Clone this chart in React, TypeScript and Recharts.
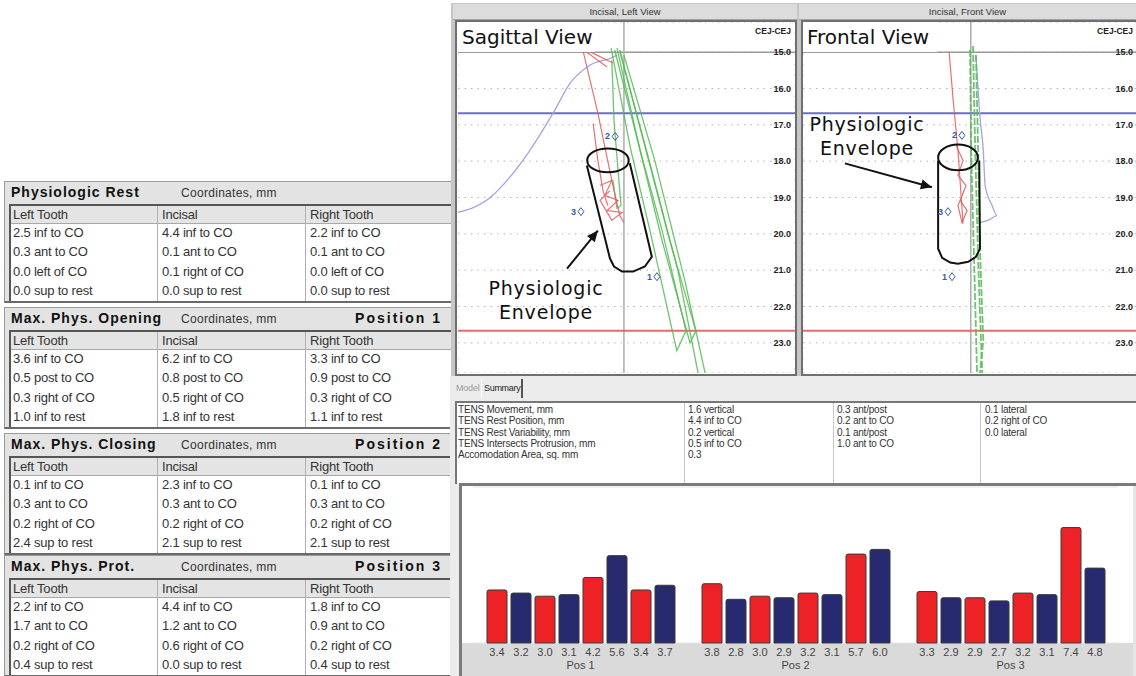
import React from 'react';
import {
  Bar,
  BarChart,
  CartesianGrid,
  LabelList,
  ReferenceLine,
  Scatter,
  ScatterChart,
  XAxis,
  YAxis,
} from 'recharts';

const SANS = '"Liberation Sans", Arial, sans-serif';
const WIDE = '"DejaVu Sans", Verdana, sans-serif';

// ---- coordinate tables (left side) ----
const columnHeads = ['Left Tooth', 'Incisal', 'Right Tooth'];

const restRows = [
  ['2.5 inf to CO', '4.4 inf to CO', '2.2 inf to CO'],
  ['0.3 ant to CO', '0.1 ant to CO', '0.1 ant to CO'],
  ['0.0 left of CO', '0.1 right of CO', '0.0 left of CO'],
  ['0.0 sup to rest', '0.0 sup to rest', '0.0 sup to rest'],
];
const openingRows = [
  ['3.6 inf to CO', '6.2 inf to CO', '3.3 inf to CO'],
  ['0.5 post to CO', '0.8 post to CO', '0.9 post to CO'],
  ['0.3 right of CO', '0.5 right of CO', '0.3 right of CO'],
  ['1.0 inf to rest', '1.8 inf to rest', '1.1 inf to rest'],
];
const closingRows = [
  ['0.1 inf to CO', '2.3 inf to CO', '0.1 inf to CO'],
  ['0.3 ant to CO', '0.3 ant to CO', '0.3 ant to CO'],
  ['0.2 right of CO', '0.2 right of CO', '0.2 right of CO'],
  ['2.4 sup to rest', '2.1 sup to rest', '2.1 sup to rest'],
];
const protrusionRows = [
  ['2.2 inf to CO', '4.4 inf to CO', '1.8 inf to CO'],
  ['1.7 ant to CO', '1.2 ant to CO', '0.9 ant to CO'],
  ['0.2 right of CO', '0.6 right of CO', '0.2 right of CO'],
  ['0.4 sup to rest', '0.0 sup to rest', '0.4 sup to rest'],
];

// ---- summary tab ----
const summaryRows = [
  ['TENS Movement, mm', '1.6 vertical', '0.3 ant/post', '0.1 lateral'],
  ['TENS Rest Position, mm', '4.4 inf to CO', '0.2 ant to CO', '0.2 right of CO'],
  ['TENS Rest Variability, mm', '0.2 vertical', '0.1 ant/post', '0.0 lateral'],
  ['TENS Intersects Protrusion, mm', '0.5 inf to CO', '1.0 ant to CO', ''],
  ['Accomodation Area, sq. mm', '0.3', '', ''],
];

// ---- bar chart ----
const positionNames = ['Pos 1', 'Pos 2', 'Pos 3'];
const pos1Values = [3.4, 3.2, 3.0, 3.1, 4.2, 5.6, 3.4, 3.7];
const pos2Values = [3.8, 2.8, 3.0, 2.9, 3.2, 3.1, 5.7, 6.0];
const pos3Values = [3.3, 2.9, 2.9, 2.7, 3.2, 3.1, 7.4, 4.8];
const barColors = ['#ec2227', '#272a6e'];

// ---- tracings, mm (x: 0 = CO line, y: depth) ----
const depthTicks = [15, 16, 17, 18, 19, 20, 21, 22, 23];
const gridX = [-4, -3, -2, -1, 0, 1, 2, 3, 4];
const depthDomain = [14.17, 23.83];
const topLevel = 15;
const restLevel = 16.68;
const openLevel = 22.67;

const sagBlue = [[-4.7, 19.45], [-3.57, 18.94], [-3.38, 18.75], [-2.56, 17.7], [-1.93, 16.68], [-1.47, 15.86], [-0.93, 15.36], [-0.3, 15.14], [-0.19, 15.08]];
const sagRed = [
  [[-1.12, 14.94], [-0.71, 16.68], [-0.46, 17.9], [-0.27, 18.81], [-0.11, 19.5], [0, 19.69]],
  [[-0.84, 16.96], [-0.71, 17.98], [-0.57, 18.81], [-0.44, 19.22]],
  [[-0.65, 18.67], [-0.33, 18.53], [-0.52, 18.94], [-0.16, 19.08], [-0.46, 19.36], [-0.05, 19.41], [-0.33, 19.63], [-0.65, 19.08], [-0.38, 18.81]],
  [[-1.01, 15.0], [-0.46, 15.41]],
  [[-0.9, 15.0], [-0.3, 15.3]],
];
const sagGreen = [
  [[-0.35, 14.89], [0.19, 17.7], [0.71, 19.91], [1.44, 23.22], [1.69, 22.67], [1.04, 19.91], [0.44, 17.7], [-0.19, 14.89]],
  [[-0.25, 14.94], [0.44, 17.7], [1.04, 20.19], [1.8, 23.0], [1.96, 22.67], [1.25, 20.19], [0.6, 17.7], [-0.11, 14.94]],
  [[-0.11, 15.0], [0.65, 17.84], [1.47, 21.01], [2.02, 23.83]],
  [[0, 15.08], [0.84, 17.98], [1.66, 21.29], [2.21, 23.83]],
  [[-0.33, 15.22], [-0.27, 16.88], [-0.16, 18.26], [-0.08, 19.22], [-0.19, 19.3], [-0.3, 18.53]],
];
const sagEllipse = [[0.19, 17.98], [0.01, 18.24], [-0.44, 18.34], [-0.88, 18.24], [-1.06, 17.98], [-0.88, 17.72], [-0.44, 17.62], [0.01, 17.72]];
const sagBody = [[-1.01, 18.12], [-0.38, 20.68], [-0.27, 20.9], [-0.05, 21.04], [0.25, 21.04], [0.57, 20.9], [0.76, 20.63], [0.16, 18.06]];
const sagArrow = [[-1.55, 20.96], [-0.71, 19.91]];
const sagArrowTip = [{ x: -0.71, y: 19.91, angle: -50.8 }];
const sagMarks = [
  { x: -0.35, y: 17.32, label: '2' },
  { x: -1.28, y: 19.39, label: '3' },
  { x: 0.79, y: 21.18, label: '1' },
];

const frontBlue = [[0.14, 15.08], [0.2, 16.05], [0.25, 16.79], [0.34, 17.7], [0.39, 18.67], [0.58, 19.22], [0.72, 19.5], [0.47, 19.63], [0.25, 19.69]];
const frontRed = [
  [[-0.59, 15.0], [-0.48, 16.32], [-0.35, 17.7], [-0.24, 19.3], [-0.21, 19.72]],
  [[-0.4, 17.57], [-0.21, 17.98], [-0.35, 18.39], [-0.13, 18.67], [-0.29, 19.08], [-0.1, 19.36], [-0.24, 19.69], [-0.35, 19.22], [-0.18, 18.81]],
];
const frontGreen = [
  [[0.06, 14.83], [0.12, 17.7], [0.2, 20.74], [0.31, 23.83]],
  [[-0.02, 14.94], [0.01, 17.7], [0.09, 20.74], [0.17, 23.83]],
  [[0.14, 15.08], [0.2, 17.7], [0.25, 20.46], [0.34, 22.94], [0.25, 23.83]],
];
const frontEllipse = [[0.25, 17.9], [0.08, 18.18], [-0.35, 18.29], [-0.77, 18.18], [-0.95, 17.9], [-0.77, 17.62], [-0.35, 17.5], [0.08, 17.62]];
const frontBody = [[-0.89, 17.98], [-0.89, 20.41], [-0.78, 20.66], [-0.56, 20.79], [-0.35, 20.82], [-0.07, 20.77], [0.14, 20.63], [0.25, 20.41], [0.23, 17.98]];
const frontArrow = [[-3.43, 18.06], [-1.06, 18.72]];
const frontArrowTip = [{ x: -1.06, y: 18.72, angle: 15.4 }];
const frontMarks = [
  { x: -0.35, y: 17.29, label: '2' },
  { x: -0.73, y: 19.39, label: '3' },
  { x: -0.62, y: 21.18, label: '1' },
];

const toPts = (arr: number[][]) => arr.map(([x, y]) => ({ x, y }));
const noDot = () => <g />;

const ArrowHead = (props: any) => {
  const { cx, cy, payload } = props;
  return (
    <polygon
      points='0,0 -11,-5 -11,5'
      fill='#111'
      transform={`translate(${cx},${cy}) rotate(${payload.angle})`}
    />
  );
};

const PosMark = (props: any) => {
  const { cx, cy, payload } = props;
  return (
    <g>
      <text x={cx - 1} y={cy + 3} textAnchor='end' fontSize={9} fontWeight='bold' fill='#3b5aa8' fontFamily={SANS}>
        {payload.label}
      </text>
      <path d={`M${cx + 1},${cy} l3,-4 l3,4 l-3,4 z`} fill='none' stroke='#3b5aa8' strokeWidth={1} />
    </g>
  );
};

function traceLine(key: string, pts: number[][], stroke: string, strokeWidth: number, opts: any = {}) {
  return (
    <Scatter
      key={key}
      data={toPts(pts)}
      fill='none'
      line={{ stroke, strokeWidth, strokeOpacity: opts.opacity ?? 1, strokeDasharray: opts.dash }}
      lineJointType={opts.curve || 'linear'}
      shape={noDot}
      isAnimationActive={false}
    />
  );
}

function TraceView({ width, xDomain, blue, reds, greens, ellipse, body, arrow, arrowTip, marks, greenDash, labelGap }: any) {
  return (
    <ScatterChart width={width} height={351} margin={{ top: 0, right: 0, bottom: 0, left: 0 }}>
      <CartesianGrid stroke='#b4b4b4' strokeDasharray='1.5 5' vertical={false} />
      <CartesianGrid stroke='#c0c0c0' strokeDasharray='1.5 9' horizontal={false} />
      <XAxis
        type='number'
        dataKey='x'
        domain={xDomain}
        ticks={gridX}
        allowDataOverflow
        height={0}
        tick={false}
        axisLine={false}
        tickLine={false}
      />
      <YAxis
        type='number'
        dataKey='y'
        domain={depthDomain}
        ticks={depthTicks}
        reversed
        allowDataOverflow
        orientation='right'
        mirror
        axisLine={false}
        tickLine={false}
        tickSize={0}
        tickMargin={labelGap}
        tick={{ fontSize: 9, fontWeight: 'bold', fill: '#222', fontFamily: SANS }}
        tickFormatter={(v: number) => v.toFixed(1)}
      />
      <ReferenceLine y={topLevel} stroke='#9a9a9a' strokeWidth={1.5} />
      <ReferenceLine x={0} stroke='#acacac' strokeWidth={1.5} />
      <ReferenceLine y={restLevel} stroke='#6b6bd6' strokeWidth={2} />
      <ReferenceLine y={openLevel} stroke='#e86a6a' strokeWidth={2} />
      {traceLine('blue', blue, '#a3a3e6', 1.3, { curve: 'monotone' })}
      {greens.map((g: number[][], i: number) =>
        traceLine('g' + i, g, '#55bb55', greenDash ? 1.8 : 1.3, { opacity: 0.85, dash: greenDash ? '7 2' : undefined })
      )}
      {reds.map((r: number[][], i: number) => traceLine('r' + i, r, '#e25a5a', 1.2, { opacity: 0.85 }))}
      {traceLine('ellipse', ellipse, '#111', 2, { curve: 'basisClosed' })}
      {traceLine('body', body, '#111', 2)}
      {traceLine('arrow', arrow, '#111', 2)}
      <Scatter data={arrowTip} shape={ArrowHead} isAnimationActive={false} />
      <Scatter data={marks} shape={PosMark} isAnimationActive={false} />
    </ScatterChart>
  );
}

function CoordTable({ top, title, position, rows }: any) {
  const colX = [0, 146, 294];
  return (
    <div
      style={{
        position: 'absolute',
        left: 4,
        top,
        width: 454,
        height: 122,
        boxSizing: 'border-box',
        background: '#e3e3e3',
        borderTop: '1px solid #9a9a9a',
        borderLeft: '1px solid #9a9a9a',
        borderRight: '3px solid #5a5a5a',
        borderBottom: '2px solid #6a6a6a',
        overflow: 'hidden',
      }}
    >
      <div style={{ position: 'absolute', left: 6, top: 0, fontWeight: 'bold', fontSize: 14, letterSpacing: 1, color: '#111', lineHeight: '20px' }}>
        {title}
      </div>
      <div style={{ position: 'absolute', left: 176, top: 2, fontSize: 12, color: '#333', lineHeight: '18px', letterSpacing: 0.3 }}>
        Coordinates, mm
      </div>
      {position ? (
        <div style={{ position: 'absolute', right: 13, top: 0, fontWeight: 'bold', fontSize: 14, letterSpacing: 2, color: '#111', lineHeight: '20px' }}>
          {position}
        </div>
      ) : null}
      <div
        style={{
          position: 'absolute',
          left: 4,
          top: 22,
          width: 444,
          height: 99,
          background: '#fff',
          borderTop: '2px solid #555',
          borderLeft: '2px solid #555',
          borderRight: '1px solid #bbb',
          boxSizing: 'border-box',
        }}
      >
        <div style={{ position: 'absolute', left: 0, top: 0, right: 0, height: 17, background: '#e4e4e4', borderBottom: '1px solid #a8a8a8' }} />
        {colX.slice(1).map((x) => (
          <div key={x} style={{ position: 'absolute', left: x, top: 0, bottom: 0, width: 1, background: '#b0b0b0' }} />
        ))}
        {columnHeads.map((h, i) => (
          <div key={h} style={{ position: 'absolute', left: colX[i] + (i ? 5 : 2), top: 0, lineHeight: '17px', fontSize: 13, color: '#333', letterSpacing: -0.2 }}>
            {h}
          </div>
        ))}
        {rows.map((r: string[], ri: number) =>
          r.map((c, ci) => (
            <div
              key={ri + '-' + ci}
              style={{ position: 'absolute', left: colX[ci] + (ci ? 5 : 2), top: 17 + ri * 19.3, lineHeight: '19px', fontSize: 13, color: '#333', letterSpacing: -0.2, whiteSpace: 'nowrap' }}
            >
              {c}
            </div>
          ))
        )}
      </div>
    </div>
  );
}

function PanelFrame({ left, titleWidth, frameWidth, title }: any) {
  return (
    <>
      <div
        style={{
          position: 'absolute',
          left,
          top: 4,
          width: titleWidth,
          height: 16,
          background: '#dcdcdc',
          borderBottom: '1px solid #a5a5a5',
          boxSizing: 'border-box',
          textAlign: 'center',
          fontSize: 9.5,
          lineHeight: '15px',
          color: '#333',
        }}
      >
        {title}
      </div>
      <div
        style={{
          position: 'absolute',
          left: left + 2,
          top: 20,
          width: frameWidth,
          height: 356,
          border: '2px solid #6f6f6f',
          boxSizing: 'border-box',
          background: '#fff',
        }}
      />
    </>
  );
}

const ValueLabel = (props: any) => {
  const vb = props.viewBox || props;
  const x = vb.x ?? props.x;
  const y = vb.y ?? props.y;
  const w = vb.width ?? props.width;
  const h = vb.height ?? props.height;
  return (
    <text x={x + w / 2} y={y + h + 13} textAnchor='middle' fontSize={11} fill='#444' fontFamily={SANS}>
      {Number(props.value).toFixed(1)}
    </text>
  );
};

const PosTick = (props: any) => {
  const { x, y, payload } = props;
  return (
    <text x={x} y={y + 26} textAnchor='middle' fontSize={11} fill='#444' fontFamily={SANS}>
      {payload.value}
    </text>
  );
};

export default function App() {
  const barData = positionNames.map((name, i) => {
    const vals = [pos1Values, pos2Values, pos3Values][i];
    const row: any = { name };
    vals.forEach((v, j) => {
      row['b' + j] = v;
    });
    return row;
  });

  const envelopeText = {
    position: 'absolute' as const,
    width: 150,
    textAlign: 'center' as const,
    fontFamily: WIDE,
    fontSize: 19,
    lineHeight: '24px',
    letterSpacing: 0.8,
    color: '#111',
  };
  const viewTitle = {
    position: 'absolute' as const,
    top: 22,
    height: 30,
    background: '#fff',
    fontFamily: WIDE,
    fontSize: 20,
    lineHeight: '30px',
    color: '#111',
    paddingLeft: 4,
    boxSizing: 'border-box' as const,
  };
  const cej = {
    position: 'absolute' as const,
    top: 26,
    fontSize: 8.5,
    fontWeight: 'bold' as const,
    color: '#222',
    textAlign: 'right' as const,
  };

  return (
    <div
      style={{
        position: 'absolute',
        left: 0,
        top: 0,
        width: 1136,
        height: 676,
        overflow: 'hidden',
        background: '#fff',
        fontFamily: SANS,
      }}
    >
      {/* coordinate tables */}
      <CoordTable top={181} title='Physiologic Rest' rows={restRows} />
      <CoordTable top={307} title='Max. Phys. Opening' position='Position 1' rows={openingRows} />
      <CoordTable top={433} title='Max. Phys. Closing' position='Position 2' rows={closingRows} />
      <CoordTable top={555} title='Max. Phys. Prot.' position='Position 3' rows={protrusionRows} />

      {/* tracing panels */}
      <div style={{ position: 'absolute', left: 451, top: 3, width: 685, height: 375, background: '#c6c6c6' }} />
      <PanelFrame left={453} titleWidth={344} frameWidth={342} title='Incisal, Left View' />
      <PanelFrame left={799} titleWidth={337} frameWidth={352} title='Incisal, Front View' />

      <div style={{ position: 'absolute', left: 458, top: 22 }}>
        <TraceView
          width={337}
          xDomain={[-4.52, 4.66]}
          blue={sagBlue}
          reds={sagRed}
          greens={sagGreen}
          ellipse={sagEllipse}
          body={sagBody}
          arrow={sagArrow}
          arrowTip={sagArrowTip}
          marks={sagMarks}
          labelGap={4}
        />
      </div>
      <div style={{ position: 'absolute', left: 803, top: 22 }}>
        <TraceView
          width={340}
          xDomain={[-4.57, 4.69]}
          blue={frontBlue}
          reds={frontRed}
          greens={frontGreen}
          ellipse={frontEllipse}
          body={frontBody}
          arrow={frontArrow}
          arrowTip={frontArrowTip}
          marks={frontMarks}
          greenDash
          labelGap={10}
        />
      </div>

      <div style={{ ...viewTitle, left: 458, width: 137 }}>Sagittal View</div>
      <div style={{ ...viewTitle, left: 803, width: 134 }}>Frontal View</div>
      <div style={{ ...cej, left: 735, width: 56 }}>CEJ-CEJ</div>
      <div style={{ ...cej, left: 1074, width: 59 }}>CEJ-CEJ</div>

      <div style={{ ...envelopeText, left: 471, top: 276 }}>
        Physiologic
        <br />
        Envelope
      </div>
      <div style={{ ...envelopeText, left: 792, top: 112 }}>
        Physiologic
        <br />
        Envelope
      </div>

      {/* summary tab */}
      <div style={{ position: 'absolute', left: 450, top: 376, width: 686, height: 300, background: '#ececec' }} />
      <div style={{ position: 'absolute', left: 456, top: 381, fontSize: 9, color: '#9a9a9a', lineHeight: '14px', letterSpacing: -0.2 }}>Model</div>
      <div
        style={{
          position: 'absolute',
          left: 481,
          top: 379,
          width: 42,
          height: 19,
          borderLeft: '1px solid #fff',
          borderRight: '2px solid #555',
          boxSizing: 'border-box',
          fontSize: 9,
          color: '#222',
          lineHeight: '18px',
          paddingLeft: 2,
          letterSpacing: -0.3,
          whiteSpace: 'nowrap',
        }}
      >
        Summary
      </div>
      <div
        style={{
          position: 'absolute',
          left: 455,
          top: 401,
          width: 681,
          height: 83,
          background: '#fff',
          borderTop: '2px solid #777',
          borderLeft: '2px solid #777',
          boxSizing: 'border-box',
        }}
      >
        {[227, 376, 523].map((x) => (
          <div key={x} style={{ position: 'absolute', left: x, top: 0, bottom: 0, width: 1, background: '#c8c8c8' }} />
        ))}
        {summaryRows.map((r, ri) =>
          r.map((c, ci) => (
            <div
              key={ri + '-' + ci}
              style={{
                position: 'absolute',
                left: [1, 231, 380, 528][ci],
                top: 1 + ri * 11.3,
                fontSize: 10,
                lineHeight: '11.3px',
                color: '#333',
                letterSpacing: -0.2,
                whiteSpace: 'nowrap',
              }}
            >
              {c}
            </div>
          ))
        )}
      </div>

      {/* bar chart */}
      <div
        style={{
          position: 'absolute',
          left: 459,
          top: 483,
          width: 677,
          height: 193,
          background: '#fff',
          borderTop: '3px solid #7a7a7a',
          borderLeft: '3px solid #7a7a7a',
          boxSizing: 'border-box',
        }}
      />
      <div style={{ position: 'absolute', left: 1133, top: 486, width: 3, height: 190, background: '#e6e6e6' }} />
      <div style={{ position: 'absolute', left: 462, top: 643, width: 671, height: 33, background: '#dadada' }} />
      <div style={{ position: 'absolute', left: 462, top: 486 }}>
        <BarChart
          width={671}
          height={190}
          data={barData}
          margin={{ top: 1, right: 15, bottom: 0, left: 11 }}
          barSize={20}
          barGap={4}
        >
          <CartesianGrid stroke='#dfe6ea' vertical={false} />
          <XAxis
            dataKey='name'
            height={33}
            axisLine={false}
            tickLine={false}
            tickSize={0}
            tickMargin={0}
            tick={PosTick}
          />
          <YAxis width={0} domain={[0, 10]} ticks={[0, 2, 4, 6, 8, 10]} tick={false} axisLine={false} tickLine={false} />
          {pos1Values.map((_, j) => (
            <Bar
              key={j}
              dataKey={'b' + j}
              fill={barColors[j % 2]}
              stroke='#3a3a3a'
              strokeWidth={1}
              radius={[2, 2, 0, 0]}
              isAnimationActive={false}
            >
              <LabelList dataKey={'b' + j} content={ValueLabel} />
            </Bar>
          ))}
        </BarChart>
      </div>
    </div>
  );
}
